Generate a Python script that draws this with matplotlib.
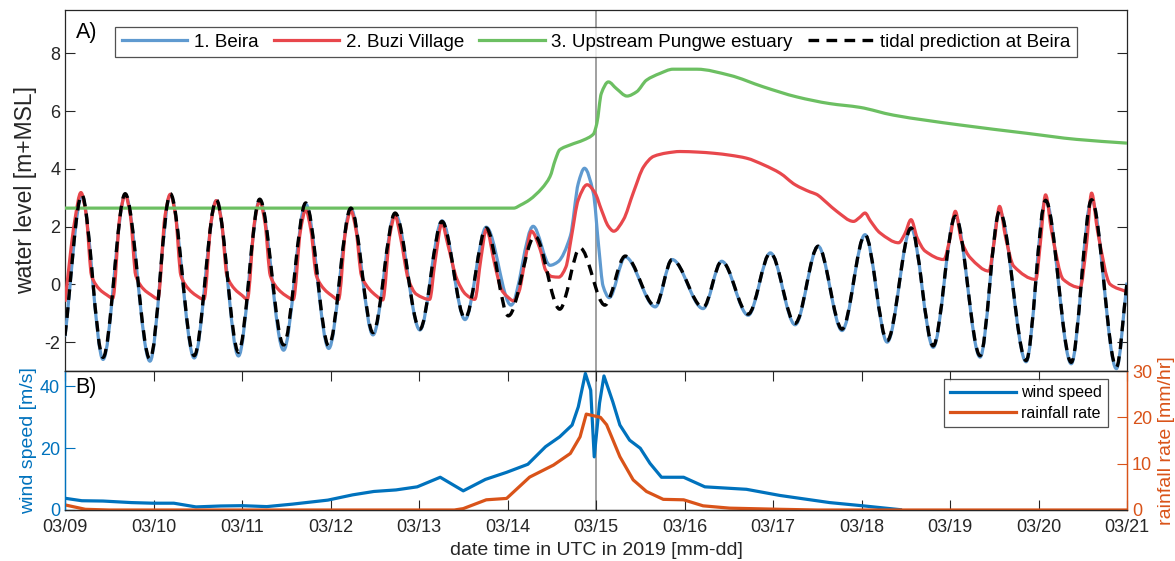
import numpy as np
import matplotlib
matplotlib.use('Agg')
import matplotlib.pyplot as plt
from matplotlib.path import Path
from matplotlib.patches import PathPatch
from matplotlib.lines import Line2D

plt.rcParams['font.family'] = ['Liberation Sans', 'DejaVu Sans']
plt.rcParams['axes.unicode_minus'] = False

# time in days since 2019-03-09 00:00 UTC
day_ticks = [0, 1, 2, 3, 4, 5, 6, 7, 8, 9, 10, 11, 12]
day_labels = ['03/09', '03/10', '03/11', '03/12', '03/13', '03/14', '03/15',
              '03/16', '03/17', '03/18', '03/19', '03/20', '03/21']
landfall_day = 6.0

# 1. Beira (observed), high / low waters and surge points
beira_t = [0.00, 0.19, 0.43, 0.68, 0.96, 1.19, 1.46, 1.71, 1.96, 2.20, 2.47, 2.72,
           2.98, 3.23, 3.48, 3.73, 4.01, 4.26, 4.52, 4.76, 5.04, 5.29, 5.48, 5.57,
           5.71, 5.80, 5.87, 5.97, 6.03, 6.08, 6.15, 6.33, 6.67, 6.86, 7.21, 7.42,
           7.72, 7.97, 8.25, 8.51, 8.78, 9.04, 9.29, 9.56, 9.81, 10.06, 10.34, 10.56,
           10.86, 11.08, 11.37, 11.60, 11.88, 12.00]
beira_v = [-1.80, 3.06, -2.60, 3.10, -2.66, 3.10, -2.55, 2.90, -2.48, 2.92, -2.28, 2.78,
           -2.22, 2.62, -1.75, 2.45, -1.58, 2.20, -1.22, 1.98, -0.72, 2.01, 0.66, 0.78,
           1.67, 3.50, 4.02, 3.16, 1.32, -0.06, -0.46, 0.95, -0.78, 0.86, -0.84, 0.80,
           -1.07, 1.09, -1.40, 1.32, -1.60, 1.72, -2.00, 1.95, -2.18, 2.36, -2.52, 2.53,
           -2.68, 2.91, -2.75, 2.93, -2.92, 0.06]

# 2. Buzi Village
buzi_t = [0.00, 0.11, 0.18, 0.24, 0.30, 0.39, 0.47, 0.54, 0.62, 0.68, 0.74, 0.80,
          0.89, 0.97, 1.05, 1.13, 1.19, 1.25, 1.31, 1.40, 1.48, 1.57, 1.65, 1.71,
          1.77, 1.83, 1.92, 2.00, 2.06, 2.14, 2.20, 2.26, 2.32, 2.41, 2.49, 2.58,
          2.66, 2.72, 2.78, 2.84, 2.93, 3.01, 3.09, 3.17, 3.23, 3.29, 3.35, 3.44,
          3.52, 3.59, 3.67, 3.73, 3.79, 3.88, 3.97, 4.12, 4.18, 4.26, 4.32, 4.43,
          4.53, 4.63, 4.70, 4.76, 4.86, 4.93, 4.99, 5.07, 5.13, 5.20, 5.27, 5.37,
          5.43, 5.50, 5.58, 5.66, 5.72, 5.80, 5.90, 5.99, 6.06, 6.14, 6.20, 6.31,
          6.42, 6.54, 6.65, 6.80, 6.95, 7.15, 7.33, 7.52, 7.70, 7.90, 8.08, 8.25,
          8.42, 8.49, 8.61, 8.72, 8.91, 8.98, 9.04, 9.10, 9.21, 9.42, 9.49, 9.56,
          9.63, 9.72, 9.93, 10.00, 10.06, 10.13, 10.23, 10.44, 10.50, 10.56, 10.63, 10.72,
          10.97, 11.02, 11.08, 11.15, 11.28, 11.47, 11.54, 11.60, 11.67, 11.81, 12.00]
buzi_v = [-0.60, 2.20, 3.18, 2.40, 0.30, -0.17, -0.36, -0.48, 2.35, 3.10, 2.35, 0.30,
          -0.17, -0.36, -0.50, 2.37, 3.12, 2.37, 0.30, -0.17, -0.38, -0.52, 2.15, 2.90,
          2.15, 0.30, -0.17, -0.38, -0.52, 2.13, 2.88, 2.13, 0.30, -0.17, -0.38, -0.52,
          1.85, 2.58, 1.85, 0.30, -0.17, -0.38, -0.53, 1.85, 2.55, 1.85, 0.30, -0.17,
          -0.40, -0.54, 1.70, 2.38, 1.65, 0.17, -0.34, -0.52, 0.76, 2.12, 1.45, 0.17,
          -0.35, -0.52, 0.90, 1.90, 0.63, -0.17, -0.40, -0.57, -0.25, 0.86, 1.84, 1.20,
          0.50, 0.27, 0.25, 0.60, 1.60, 2.93, 3.45, 3.16, 2.59, 2.01, 1.84, 2.24,
          3.16, 4.08, 4.43, 4.55, 4.60, 4.58, 4.54, 4.47, 4.37, 4.13, 3.85, 3.45,
          3.20, 3.12, 2.82, 2.53, 2.18, 2.32, 2.47, 2.20, 1.78, 1.44, 1.75, 2.24,
          1.60, 1.15, 0.86, 1.60, 2.53, 1.50, 0.92, 0.46, 1.50, 2.70, 1.60, 0.63,
          0.17, 1.40, 3.10, 1.80, 0.17, -0.11, 1.30, 3.16, 1.80, 0.00, -0.26]

# 3. Upstream Pungwe estuary
pungwe_t = [0.00, 5.07, 5.15, 5.25, 5.39, 5.48, 5.54, 5.59, 5.71, 5.86, 5.97, 6.01,
            6.06, 6.14, 6.23, 6.35, 6.46, 6.57, 6.72, 6.87, 7.14, 7.51, 7.89, 8.27,
            8.64, 8.98, 9.36, 10.11, 10.87, 11.43, 12.00]
pungwe_v = [2.64, 2.64, 2.75, 2.93, 3.33, 3.73, 4.31, 4.66, 4.83, 5.00, 5.20, 5.58,
            6.61, 7.01, 6.78, 6.52, 6.67, 7.07, 7.30, 7.45, 7.45, 7.24, 6.84, 6.49,
            6.26, 6.13, 5.86, 5.52, 5.23, 5.02, 4.89]

# tidal prediction at Beira, high / low waters
tide_t = [0.00, 0.19, 0.43, 0.68, 0.96, 1.19, 1.46, 1.71, 1.96, 2.20, 2.47, 2.72,
          2.98, 3.23, 3.48, 3.73, 4.01, 4.26, 4.52, 4.76, 5.01, 5.31, 5.59, 5.82,
          6.10, 6.33, 6.67, 6.86, 7.21, 7.42, 7.72, 7.97, 8.25, 8.51, 8.78, 9.04,
          9.29, 9.56, 9.81, 10.06, 10.34, 10.56, 10.86, 11.08, 11.37, 11.60, 11.88, 12.00]
tide_v = [-1.78, 3.10, -2.53, 3.14, -2.59, 3.14, -2.47, 2.93, -2.35, 2.95, -2.10, 2.82,
          -2.13, 2.64, -1.67, 2.47, -1.55, 2.18, -1.18, 1.95, -1.09, 1.67, -0.86, 1.26,
          -0.72, 0.98, -0.75, 0.86, -0.80, 0.80, -1.03, 1.09, -1.35, 1.32, -1.55, 1.72,
          -1.95, 1.95, -2.13, 2.36, -2.47, 2.53, -2.64, 2.91, -2.70, 2.93, -2.87, 0.06]

# wind speed [m/s]
wind_t = [0.00, 0.19, 0.43, 0.75, 0.99, 1.23, 1.48, 1.76, 2.00, 2.28, 2.57, 2.97,
          3.25, 3.49, 3.74, 3.98, 4.24, 4.50, 4.75, 4.99, 5.23, 5.43, 5.59, 5.73,
          5.80, 5.88, 5.94, 5.98, 6.04, 6.09, 6.19, 6.27, 6.38, 6.50, 6.61, 6.74,
          6.99, 7.23, 7.70, 8.08, 8.64, 9.00, 9.44]
wind_v = [3.8, 3.0, 2.9, 2.4, 2.2, 2.2, 1.0, 1.3, 1.4, 1.1, 1.9, 3.2,
          4.9, 6.0, 6.5, 7.5, 10.6, 6.2, 9.9, 12.2, 14.8, 20.5, 23.7, 27.5,
          33.4, 44.2, 38.8, 17.2, 34.6, 43.4, 35.0, 27.5, 22.6, 20.0, 15.1, 10.6,
          10.6, 7.5, 6.7, 4.7, 2.4, 1.4, 0.1]

# rainfall rate [mm/hr]
rain_t = [0.00, 0.23, 0.50, 4.40, 4.50, 4.76, 4.99, 5.25, 5.52, 5.71, 5.82, 5.89,
          6.05, 6.12, 6.27, 6.42, 6.57, 6.76, 6.99, 7.21, 7.51, 8.08, 8.50, 12.00]
rain_v = [1.1, 0.15, 0.0, 0.0, 0.3, 2.2, 2.5, 7.1, 9.7, 12.2, 15.8, 20.7,
          20.0, 18.4, 11.5, 6.5, 4.0, 2.3, 2.2, 0.9, 0.4, 0.15, 0.0, 0.0]

c_beira = '#5f9ad0'
c_buzi = '#e8474c'
c_pungwe = '#6cbf62'
c_wind = '#0072BD'
c_rain = '#D95319'
c_axis = '#262626'


def smooth_line(ax, t, v, **kw):
    # smooth curve through the listed points (shape-preserving cubic segments)
    t = np.asarray(t, float)
    v = np.asarray(v, float)
    d = np.diff(v) / np.diff(t)
    m = np.zeros_like(v)
    m[0], m[-1] = d[0], d[-1]
    for i in range(1, len(v) - 1):
        if d[i - 1] * d[i] > 0:
            m[i] = 2.0 / (1.0 / d[i - 1] + 1.0 / d[i])
    verts = [(t[0], v[0])]
    codes = [Path.MOVETO]
    for i in range(len(t) - 1):
        h = t[i + 1] - t[i]
        verts += [(t[i] + h / 3, v[i] + m[i] * h / 3),
                  (t[i + 1] - h / 3, v[i + 1] - m[i + 1] * h / 3),
                  (t[i + 1], v[i + 1])]
        codes += [Path.CURVE4] * 3
    ax.add_patch(PathPatch(Path(verts, codes), fill=False, joinstyle='round', **kw))


fig = plt.figure(figsize=(11.75, 5.61), dpi=100)
ax1 = fig.add_axes([65 / 1175, 1 - 371 / 561, 1062 / 1175, 361 / 561])
ax2 = fig.add_axes([65 / 1175, 1 - 510 / 561, 1062 / 1175, 139 / 561])
ax2r = ax2.twinx()

# ---- A) water levels
ax1.axvline(landfall_day, color='#999999', lw=1.3, zorder=1)
smooth_line(ax1, beira_t, beira_v, edgecolor=c_beira, lw=2.3, zorder=3)
smooth_line(ax1, buzi_t, buzi_v, edgecolor=c_buzi, lw=2.3, zorder=4)
smooth_line(ax1, pungwe_t, pungwe_v, edgecolor=c_pungwe, lw=2.3, zorder=5)
smooth_line(ax1, tide_t, tide_v, edgecolor='black', lw=2.4,
            linestyle=(0, (3.2, 2.2)), zorder=6)

ax1.set_xlim(0, 12)
ax1.set_ylim(-3, 9.5)
ax1.set_yticks([-2, 0, 2, 4, 6, 8])
ax1.set_xticks([])
ax1.tick_params(axis='y', direction='in', length=7, width=0.8, right=True,
                labelsize=13, colors=c_axis)
for s in ax1.spines.values():
    s.set_color(c_axis)
    s.set_linewidth(0.9)
ax1.set_ylabel('water level [m+MSL]', fontsize=16.5, color=c_axis)
ax1.yaxis.set_label_coords(-0.026, 0.5)
ax1.text(0.010, 0.968, 'A)', transform=ax1.transAxes, fontsize=15.5,
         va='top', ha='left', color='black')

handles = [Line2D([], [], color=c_beira, lw=2.3),
           Line2D([], [], color=c_buzi, lw=2.3),
           Line2D([], [], color=c_pungwe, lw=2.3),
           Line2D([], [], color='black', lw=2.4, linestyle=(0, (3.2, 2.2)))]
labels = ['1. Beira', '2. Buzi Village', '3. Upstream Pungwe estuary',
          'tidal prediction at Beira']
leg1 = ax1.legend(handles, labels, loc='upper center', bbox_to_anchor=(0.5, 1 - 17 / 361),
                  ncol=4, fontsize=13.5, frameon=True, fancybox=False,
                  handlelength=3.5, handletextpad=0.35, columnspacing=0.8,
                  borderpad=0.35, borderaxespad=0)
leg1.get_frame().set_edgecolor(c_axis)
leg1.get_frame().set_linewidth(0.9)

# ---- B) wind and rain
ax2.axvline(landfall_day, color='#999999', lw=1.3, zorder=1)
ax2.plot(wind_t, wind_v, color=c_wind, lw=2.3, zorder=3)
ax2r.plot(rain_t, rain_v, color=c_rain, lw=2.3)

ax2.set_xlim(0, 12)
ax2.set_ylim(0, 45)
ax2.set_yticks([0, 20, 40])
ax2.set_xticks(day_ticks)
ax2.set_xticklabels(day_labels)
ax2.tick_params(axis='x', direction='in', length=7, width=0.8, top=True,
                labelsize=13, colors=c_axis, pad=6.5)
ax2.tick_params(axis='y', direction='in', length=7, width=0.8, labelsize=13,
                colors=c_wind)
ax2r.set_ylim(0, 30)
ax2r.set_yticks([0, 10, 20, 30])
ax2r.tick_params(axis='y', direction='in', length=7, width=0.8, labelsize=13,
                 colors=c_rain)
for lab in ax2.get_yticklabels() + ax2r.get_yticklabels():
    lab.set_verticalalignment('center_baseline')
for a in (ax2, ax2r):
    a.spines['top'].set_color(c_axis)
    a.spines['bottom'].set_color(c_axis)
    a.spines['left'].set_color(c_wind)
    a.spines['right'].set_color(c_rain)
    for s in a.spines.values():
        s.set_linewidth(0.9)

ax2.set_ylabel('wind speed [m/s]', fontsize=14, color=c_wind)
ax2.yaxis.set_label_coords(-0.026, 0.5)
ax2r.set_ylabel('rainfall rate [mm/hr]', fontsize=14, color=c_rain)
ax2r.yaxis.set_label_coords(1.029, 0.5)
ax2.set_xlabel('date time in UTC in 2019 [mm-dd]', fontsize=14, color=c_axis, labelpad=4)
ax2.text(0.010, 0.955, 'B)', transform=ax2.transAxes, fontsize=15.5,
         va='top', ha='left', color='black')

h2 = [Line2D([], [], color=c_wind, lw=2.3), Line2D([], [], color=c_rain, lw=2.3)]
leg2 = ax2r.legend(h2, ['wind speed', 'rainfall rate'], loc='upper right',
                   bbox_to_anchor=(1 - 19 / 1062, 1 - 8 / 139), fontsize=11.5,
                   frameon=True, fancybox=False, handlelength=4.1,
                   handletextpad=0.3, labelspacing=0.35, borderpad=0.4,
                   borderaxespad=0)
leg2.get_frame().set_edgecolor(c_axis)
leg2.get_frame().set_linewidth(0.9)

fig.savefig('out.png', dpi=100)
